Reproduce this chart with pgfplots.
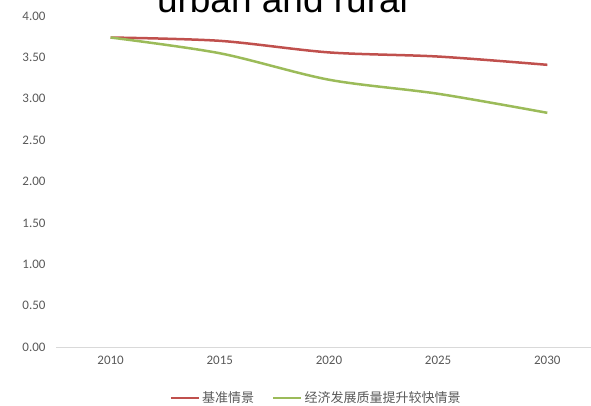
\documentclass[border=0pt]{standalone}
\usepackage{fontspec}
\setmainfont{Carlito}
\newfontfamily\cjk{Noto Sans CJK SC}
\newfontfamily\titlefont{Liberation Sans}
\usepackage{pgfplots}
\pgfplotsset{compat=1.18}
\definecolor{cred}{HTML}{C0504D}
\definecolor{cgreen}{HTML}{9BBB59}
\definecolor{ctext}{HTML}{595959}
\definecolor{cbase}{HTML}{D9D9D9}
\begin{document}
\begin{tikzpicture}[x=1pt,y=1pt]
\node[anchor=base, font=\titlefont\fontsize{37}{40}\selectfont, inner sep=0pt] at (282.5,392.3) {urban and rural};
\begin{axis}[
  at={(56pt,58pt)}, anchor=south west,
  scale only axis, width=535pt, height=331pt,
  xmin=2007.5, xmax=2032, ymin=0, ymax=4,
  xtick={2010,2015,2020,2025,2030},
  ytick={0,0.5,...,4},
  axis line style={draw=none},
  major tick length=0pt,
  /pgf/number format/assume math mode=true,
  yticklabel style={/pgf/number format/.cd, fixed, fixed zerofill, precision=2, /tikz/.cd, xshift=-7pt},
  xticklabel style={/pgf/number format/.cd, 1000 sep={}, /tikz/.cd, yshift=-6pt},
  tick label style={font=\fontsize{13}{15}\selectfont, text=ctext},
  legend columns=2,
  legend style={at={(0.486,-0.154)}, anchor=center, draw=none, fill=none,
    font=\cjk\fontsize{13}{15}\selectfont, text=ctext,
    /tikz/every even column/.append style={column sep=16pt}},
  legend cell align=left,
  legend image code/.code={\draw[#1] (0pt,0pt) -- (28pt,0pt);},
  clip=false,
]
\draw[cbase, line width=1pt] (axis cs:2007.5,0) -- (axis cs:2032,0);
\addplot[cred, line width=2.5pt, smooth, tension=0.5] coordinates {
  (2010,3.74) (2015,3.70) (2020,3.56) (2025,3.51) (2030,3.41)};
\addlegendentry{基准情景}
\addplot[cgreen, line width=2.5pt, smooth, tension=0.5] coordinates {
  (2010,3.74) (2015,3.55) (2020,3.23) (2025,3.06) (2030,2.83)};
\addlegendentry{经济发展质量提升较快情景}
\end{axis}
\pgfresetboundingbox
\useasboundingbox (0,0) rectangle (591,405);
\end{tikzpicture}
\end{document}
